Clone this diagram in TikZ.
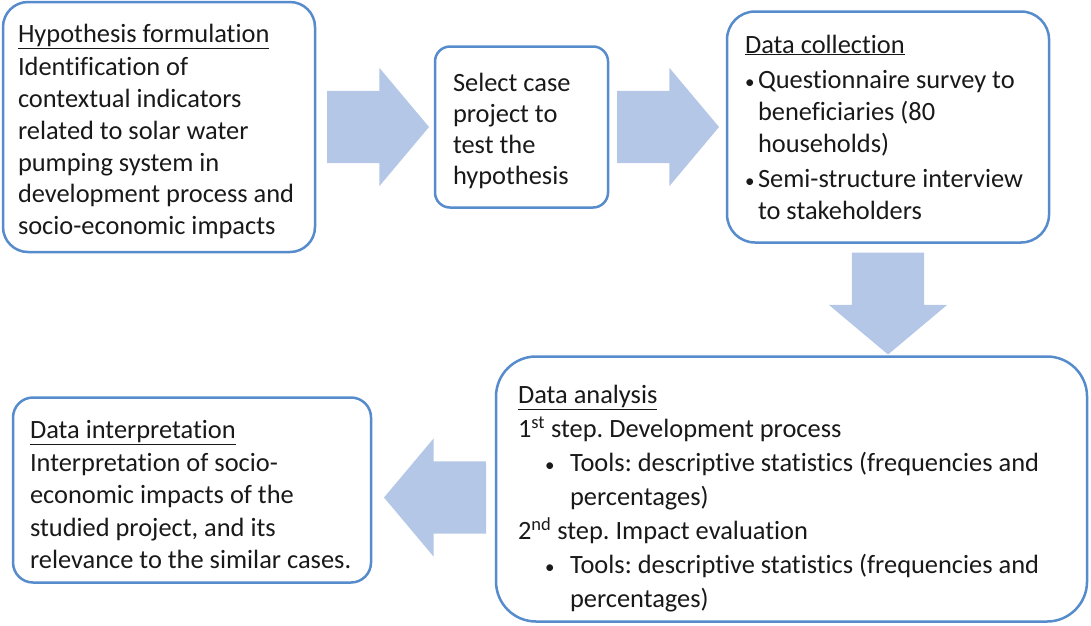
\documentclass[tikz,border=0pt]{standalone}
\usepackage{fontspec}
\setmainfont{Carlito}[Ligatures=CommonOff]
\usetikzlibrary{positioning,shapes.arrows}
\definecolor{boxline}{RGB}{86,139,204}
\definecolor{arrowfill}{RGB}{180,199,231}

\begin{document}
\frenchspacing
\begin{tikzpicture}[x=1pt,y=-1pt]
  \useasboundingbox (0,0) rectangle (1091,625);
  \begin{scope}[
    stage node/.style={
      draw=boxline,
      line width=2.5pt,
      fill=white,
      rounded corners=25pt,
      align=flush left,
      inner ysep=0pt,
      outer sep=0pt,
      text=black!90,
      font=\fontsize{26.4}{32}\selectfont,
    },
    block arrow/.style={
      single arrow,
      fill=arrowfill,
      draw=none,
      minimum height=102pt,
      inner xsep=0pt,
      inner ysep=36pt,
      outer sep=0pt,
      single arrow head extend=23pt,
      single arrow tip angle=100,
    },
    ]
    \node[stage node,anchor=north west,minimum width=312pt,minimum height=250pt,
          inner xsep=15pt,text width=282pt,font=\fontsize{26.4}{31.7}\selectfont] (hyp) at (3,2)
      {\rule{0pt}{27pt}\underline{Hypothesis formulation}\\[2pt]
       Identification of\\
       contextual indicators\\
       related to solar water\\
       pumping system in\\
       development process and\\
       socio-economic impacts};
    \node[block arrow,right=12pt of hyp] (arr1) {};
    \node[stage node,rounded corners=15pt,minimum width=173pt,minimum height=161pt,
          inner xsep=18pt,text width=137pt,font=\fontsize{26.4}{31}\selectfont,
          right=6pt of arr1] (sel)
      {\rule{0pt}{26pt}Select case\\
       project to\\
       test the\\
       hypothesis};
    \node[block arrow,right=9pt of sel] (arr2) {};
    \node[stage node,rounded corners=28pt,minimum width=322pt,minimum height=231pt,
          inner xsep=18pt,text width=286pt,right=8pt of arr2] (col)
      {\underline{Data collection}\\[3pt]
       \makebox[13pt][l]{\fontsize{19}{19}\selectfont\textbullet}Questionnaire survey to\\
       \hspace*{13pt}beneficiaries (80\\
       \hspace*{13pt}households)\\[3pt]
       \makebox[13pt][l]{\fontsize{19}{19}\selectfont\textbullet}Semi-structure interview\\
       \hspace*{13pt}to stakeholders};
    \node[block arrow,shape border rotate=270,inner xsep=36pt,inner ysep=0pt,
          below=10pt of col,anchor=tail] (arr3) {};
    \node[stage node,rounded corners=40pt,minimum width=591pt,minimum height=265pt,
          inner xsep=22pt,text width=547pt,font=\fontsize{26.4}{34}\selectfont,
          below=2pt of arr3.tip,anchor=north,xshift=-96.5pt] (ana)
      {\rule{0pt}{37pt}\underline{Data analysis}\\
       1\textsuperscript{st} step. Development process\\
       \hspace*{27pt}\makebox[25pt][l]{\fontsize{19}{19}\selectfont\textbullet}Tools: descriptive statistics (frequencies and\\
       \hspace*{52pt}percentages)\\
       2\textsuperscript{nd} step. Impact evaluation\\
       \hspace*{27pt}\makebox[25pt][l]{\fontsize{19}{19}\selectfont\textbullet}Tools: descriptive statistics (frequencies and\\
       \hspace*{52pt}percentages)};
    \node[block arrow,shape border rotate=180,left=10pt of ana,anchor=tail,yshift=-8.5pt] (arr4) {};
    \node[stage node,rounded corners=20pt,minimum width=358pt,minimum height=185pt,
          inner xsep=17pt,text width=324pt,font=\fontsize{26.4}{32.5}\selectfont,
          left=13pt of arr4.tip,anchor=east,yshift=7.5pt] (itp)
      {\rule{0pt}{28pt}\underline{Data interpretation}\\
       Interpretation of socio-\\
       economic impacts of the\\
       studied project, and its\\
       relevance to the similar cases.};
  \end{scope}
\end{tikzpicture}
\end{document}
